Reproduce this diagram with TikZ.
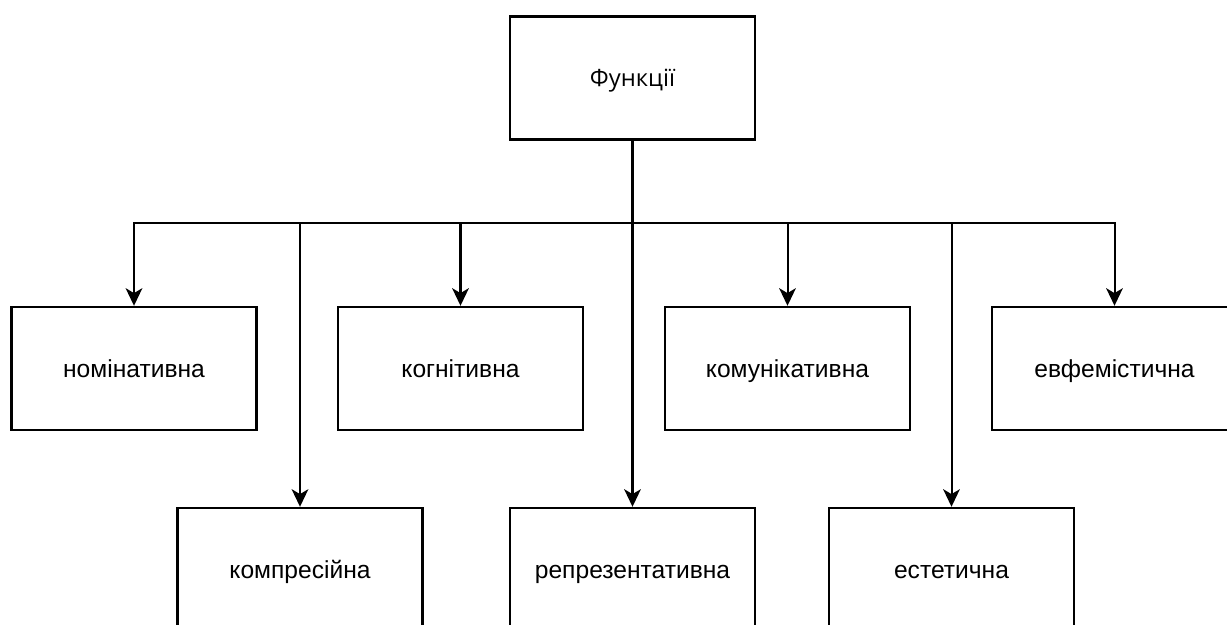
\documentclass[tikz,border=0pt]{standalone}
\usepackage{fontspec}
\setmainfont{Liberation Sans}
\newfontfamily\topfont{Open Sans}
\usetikzlibrary{arrows.meta}
\usetikzlibrary{positioning}

\tikzset{
    funcbox/.style={draw, line width=1.4pt, minimum width=4.9cm, minimum height=2.46cm,
        inner sep=0pt, text height=2.1ex, text depth=0.25ex,
        font=\fontsize{14}{17}\selectfont},
    link/.style={line width=1.15pt},
    arrow/.style={link, -{Stealth[length=10pt, width=9.5pt, inset=2.8pt]}}
}

\begin{document}
\begin{tikzpicture}[x=0.02cm, y=-0.02cm]
        \useasboundingbox (0,0) rectangle (1227,625);
        \clip (0,0) rectangle (1227,625);

        \node[funcbox, font=\topfont\fontsize{13.5}{16}\selectfont] (func) at (632.5,78) {Функції};

        % first row
        \node[funcbox] (nom)  at (134,368.5)    {номінативна};
        \node[funcbox] (kog)  at (460.5,368.5)  {когнітивна};
        \node[funcbox] (kom)  at (787.5,368.5)  {комунікативна};
        \node[funcbox] (evf)  at (1114.5,368.5) {евфемістична};

        % second row
        \node[funcbox] (komp) at (300,569.5)    {компресійна};
        \node[funcbox] (rep)  at (632.5,569.5)  {репрезентативна};
        \node[funcbox] (est)  at (951.5,569.5)  {естетична};

        \coordinate (bus) at (632.5,223);

        \draw[arrow] (func) -- (rep);
        \draw[arrow] (bus) -| (nom);
        \draw[arrow] (bus) -| (komp);
        \draw[arrow] (bus) -| (kog);
        \draw[arrow] (bus) -| (kom);
        \draw[arrow] (bus) -| (est);
        \draw[arrow] (bus) -| (evf);
\end{tikzpicture}
\end{document}
